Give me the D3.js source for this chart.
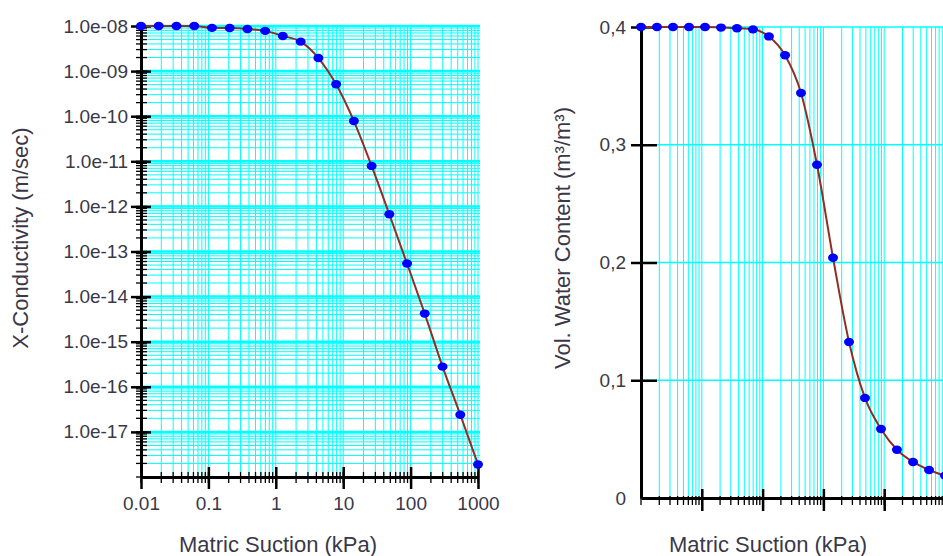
<!DOCTYPE html>
<html>
<head>
<meta charset="utf-8">
<script src="https://cdn.jsdelivr.net/npm/d3@7"></script>
<style>
  html, body { margin: 0; padding: 0; background: #ffffff; overflow: hidden; }
  svg { display: block; }
  text { font-family: "Liberation Sans", Arial, sans-serif; fill: #3a3848; }
</style>
</head>
<body>
<svg id="chart" width="943" height="556"></svg>
<script>
// ---------- data ----------
const suction = [0.01, 0.0183, 0.0336, 0.0616, 0.113, 0.207, 0.379, 0.695, 1.27, 2.34,
                 4.28, 7.85, 14.4, 26.4, 48.3, 88.6, 162, 298, 546, 1000];
const conductivity = [1.0e-8, 1.0e-8, 1.0e-8, 1.0e-8, 9.1e-9, 9.0e-9, 8.6e-9, 7.8e-9, 6.0e-9, 4.5e-9,
                      1.95e-9, 5.1e-10, 7.8e-11, 7.9e-12, 6.7e-13, 5.4e-14, 4.2e-15, 2.8e-16, 2.4e-17, 1.9e-18];
const waterContent = [0.400, 0.400, 0.400, 0.400, 0.400, 0.3995, 0.399, 0.398, 0.392, 0.376,
                      0.344, 0.283, 0.204, 0.1325, 0.085, 0.0586, 0.041, 0.0306, 0.0238, 0.019];
const xTickValues = [0.01, 0.1, 1, 10, 100, 1000];
const xTickLabels = ["0.01", "0.1", "1", "10", "100", "1000"];
const kTickValues = [1e-8, 1e-9, 1e-10, 1e-11, 1e-12, 1e-13, 1e-14, 1e-15, 1e-16, 1e-17];
const kTickLabels = ["1.0e-08", "1.0e-09", "1.0e-10", "1.0e-11", "1.0e-12", "1.0e-13",
                     "1.0e-14", "1.0e-15", "1.0e-16", "1.0e-17"];
const wTickValues = [0, 0.1, 0.2, 0.3, 0.4];
const wTickLabels = ["0", "0,1", "0,2", "0,3", "0,4"];

// ---------- helpers ----------
const svg = d3.select("#chart");
const GRID = "#00ffff";
const CURVE = "#8e2f24";
const DOT = "#0000ff";
const TICK_FS = 19;
const TITLE_FS = 22;

function logMinors(lo, hi) {
  const out = [];
  for (let e = Math.round(Math.log10(lo)); e < Math.round(Math.log10(hi)); e++) {
    for (let m = 1; m <= 9; m++) out.push(m * Math.pow(10, e));
  }
  out.push(hi);
  return out;
}

// ---------- LEFT CHART ----------
const xL = d3.scaleLog().domain([0.01, 1000]).range([141, 478]);
const yL = d3.scaleLog().domain([1e-18, 1e-8]).range([477, 26]);
const gL = svg.append("g");

const xMinL = logMinors(0.01, 1000);
const yMinL = logMinors(1e-18, 1e-8);

gL.append("g").selectAll("line").data(xMinL).join("line")
  .attr("x1", d => xL(d)).attr("x2", d => xL(d))
  .attr("y1", yL.range()[1]).attr("y2", yL.range()[0])
  .attr("stroke", GRID).attr("stroke-width", 1);
gL.append("g").selectAll("line").data(yMinL).join("line")
  .attr("y1", d => yL(d)).attr("y2", d => yL(d))
  .attr("x1", xL.range()[0]).attr("x2", xL.range()[1] + 2)
  .attr("stroke", GRID).attr("stroke-width", 1);
gL.append("g").selectAll("line").data(kTickValues).join("line")
  .attr("y1", d => yL(d)).attr("y2", d => yL(d))
  .attr("x1", xL.range()[0]).attr("x2", xL.range()[1] + 2)
  .attr("stroke", GRID).attr("stroke-width", 2.5);

// minor ticks
gL.append("g").selectAll("line").data(yMinL).join("line")
  .attr("y1", d => yL(d)).attr("y2", d => yL(d))
  .attr("x1", 136).attr("x2", 147)
  .attr("stroke", "#000").attr("stroke-width", 1.3);
gL.append("g").selectAll("line").data(xMinL).join("line")
  .attr("x1", d => xL(d)).attr("x2", d => xL(d))
  .attr("y1", 472).attr("y2", 483)
  .attr("stroke", "#000").attr("stroke-width", 1.3);

// axes
const axisYL = d3.axisLeft(yL).tickValues(kTickValues)
  .tickFormat((d, i) => kTickLabels[i]).tickSizeInner(10).tickSizeOuter(0).tickPadding(3);
const ayL = gL.append("g").attr("transform", `translate(${xL.range()[0]},0)`).call(axisYL);
ayL.select(".domain").attr("stroke", "#000").attr("stroke-width", 3);
ayL.selectAll(".tick line").attr("stroke", "#000").attr("stroke-width", 2.5).attr("x2", -10).attr("x1", 10);
ayL.selectAll(".tick text").attr("font-size", TICK_FS).attr("x", -13).style("fill", "#3a3848");

const axisXL = d3.axisBottom(xL).tickValues(xTickValues)
  .tickFormat((d, i) => xTickLabels[i]).tickSizeInner(11).tickSizeOuter(0).tickPadding(9);
const axL = gL.append("g").attr("transform", `translate(0,${yL.range()[0]})`).call(axisXL);
axL.select(".domain").attr("stroke", "#000").attr("stroke-width", 3);
axL.selectAll(".tick line").attr("stroke", "#000").attr("stroke-width", 2.5).attr("y1", -10).attr("y2", 12);
axL.selectAll(".tick text").attr("font-size", TICK_FS).style("fill", "#3a3848");

// curve & points
const ptsL = suction.map((s, i) => [s, conductivity[i]]);
gL.append("path").datum(ptsL)
  .attr("d", d3.line().x(d => xL(d[0])).y(d => yL(d[1])).curve(d3.curveMonotoneX))
  .attr("fill", "none").attr("stroke", CURVE).attr("stroke-width", 2);
gL.append("g").selectAll("ellipse").data(ptsL).join("ellipse")
  .attr("cx", d => xL(d[0])).attr("cy", d => yL(d[1]))
  .attr("rx", 5).attr("ry", 4.2).attr("fill", DOT);

// titles
gL.append("text").attr("x", 179).attr("y", 552).attr("font-size", TITLE_FS)
  .text("Matric Suction (kPa)");
gL.append("text").attr("transform", "translate(28,238) rotate(-90)")
  .attr("text-anchor", "middle").attr("font-size", TITLE_FS)
  .text("X-Conductivity (m/sec)");

// ---------- RIGHT CHART ----------
const xR = d3.scaleLog().domain([0.01, 1000]).range([641, 945]);
const yR = d3.scaleLinear().domain([0, 0.4]).range([498, 27]);
const gR = svg.append("g");
const xMinR = logMinors(0.01, 1000);

gR.append("g").selectAll("line").data(xMinR).join("line")
  .attr("x1", d => xR(d)).attr("x2", d => xR(d))
  .attr("y1", yR.range()[1]).attr("y2", yR.range()[0])
  .attr("stroke", GRID).attr("stroke-width", 1);
gR.append("g").selectAll("line").data(wTickValues.slice(1)).join("line")
  .attr("y1", d => yR(d)).attr("y2", d => yR(d))
  .attr("x1", xR.range()[0]).attr("x2", xR.range()[1])
  .attr("stroke", GRID).attr("stroke-width", 1.3);

gR.append("g").selectAll("line").data(xMinR).join("line")
  .attr("x1", d => xR(d)).attr("x2", d => xR(d))
  .attr("y1", 496).attr("y2", 505)
  .attr("stroke", "#000").attr("stroke-width", 1.3);

const axisYR = d3.axisLeft(yR).tickValues(wTickValues)
  .tickFormat((d, i) => wTickLabels[i]).tickSizeInner(10).tickSizeOuter(0).tickPadding(3);
const ayR = gR.append("g").attr("transform", `translate(${xR.range()[0]},0)`).call(axisYR);
ayR.select(".domain").attr("stroke", "#000").attr("stroke-width", 3);
ayR.selectAll(".tick line").attr("stroke", "#000").attr("stroke-width", 2.5).attr("x2", -10).attr("x1", 16);
ayR.selectAll(".tick").filter(d => d === 0).select("line").remove();
ayR.selectAll(".tick text").attr("font-size", TICK_FS).attr("x", -15).style("fill", "#3a3848");

const axisXR = d3.axisBottom(xR).tickValues(xTickValues.slice(1))
  .tickFormat("").tickSizeInner(11).tickSizeOuter(0);
const axR = gR.append("g").attr("transform", `translate(0,${yR.range()[0]})`).call(axisXR);
axR.select(".domain").attr("stroke", "#000").attr("stroke-width", 3);
axR.selectAll(".tick line").attr("stroke", "#000").attr("stroke-width", 2.5).attr("y1", -9).attr("y2", 13);

const ptsR = suction.map((s, i) => [s, waterContent[i]]);
gR.append("path").datum(ptsR)
  .attr("d", d3.line().x(d => xR(d[0])).y(d => yR(d[1])).curve(d3.curveMonotoneX))
  .attr("fill", "none").attr("stroke", CURVE).attr("stroke-width", 2);
gR.append("g").selectAll("ellipse").data(ptsR).join("ellipse")
  .attr("cx", d => xR(d[0])).attr("cy", d => yR(d[1]))
  .attr("rx", 5).attr("ry", 4.2).attr("fill", DOT);

gR.append("text").attr("x", 669).attr("y", 552).attr("font-size", TITLE_FS)
  .text("Matric Suction (kPa)");
gR.append("text").attr("transform", "translate(570,238) rotate(-90)")
  .attr("text-anchor", "middle").attr("font-size", TITLE_FS)
  .text("Vol. Water Content (m³/m³)");
</script>
</body>
</html>
